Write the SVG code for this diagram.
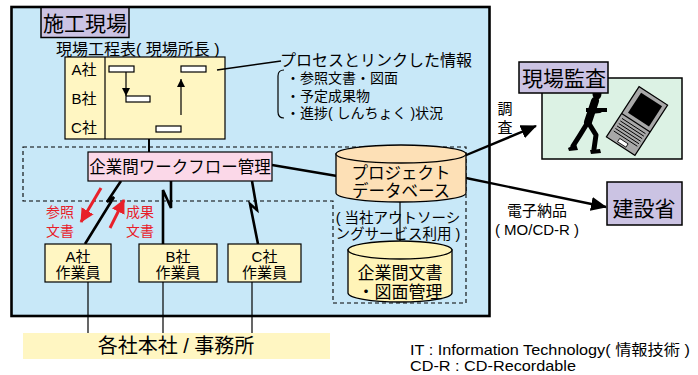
<svg xmlns="http://www.w3.org/2000/svg" width="698" height="375" viewBox="0 0 698 375">
  <style>
    text { font-family: "Liberation Sans", "Noto Sans CJK JP", sans-serif; fill: #000; }
    .c { text-anchor: middle; }
    .box { stroke: #000; stroke-width: 1.2; }
    .lav { fill: #cbc3e3; stroke: #000; stroke-width: 1.5; }
    .yel { fill: #fff6c2; }
    .bolt { fill: none; stroke: #000; stroke-width: 2.6; stroke-linejoin: miter; }
    .thin { stroke: #000; stroke-width: 1.2; fill: none; }
    .red { fill: #e8202a; }
    .redln { stroke: #e8202a; stroke-width: 3; fill: none; }
    .dash { fill: none; stroke: #000; stroke-width: 1.1; stroke-dasharray: 4 3; }
    .bar { fill: #fff; stroke: #000; stroke-width: 1.2; }
  </style>
  <defs>
    <marker id="ah" markerUnits="userSpaceOnUse" markerWidth="16" markerHeight="14" refX="15" refY="7" orient="auto">
      <path d="M0,0 L16,7 L0,14 Z" fill="#000"/>
    </marker>
    <marker id="ahs" markerUnits="userSpaceOnUse" markerWidth="8" markerHeight="8" refX="8" refY="4" orient="auto">
      <path d="M0,0 L8,4 L0,8 Z" fill="#000"/>
    </marker>
    <marker id="ahr" markerUnits="userSpaceOnUse" markerWidth="14" markerHeight="14" refX="13" refY="7" orient="auto">
      <path d="M0,0 L14,7 L0,14 Z" fill="#e8202a"/>
    </marker>
  </defs>

  <!-- site area -->
  <g id="site">
    <rect x="11.5" y="7" width="478" height="309" fill="#c8e8f8" stroke="#000" stroke-width="2.6"/>
    <rect x="41" y="7.5" width="88" height="30" class="lav"/>
    <text x="85" y="31" class="c" font-size="21">施工現場</text>
  </g>

  <!-- dashed system boundary -->
  <path class="dash" d="M23,147 L466,147 L466,303 L333,303 L333,201 L23,201 Z"/>

  <!-- schedule chart -->
  <g id="schedule">
    <text x="56" y="55" font-size="16">現場工程表( 現場所長 )</text>
    <rect x="65" y="57" width="160" height="82" fill="#fff6c2" stroke="#000" stroke-width="1.2"/>
    <line x1="105" y1="57" x2="105" y2="139" class="thin"/>
    <text x="84" y="75" class="c" font-size="15">A社</text>
    <text x="84" y="104" class="c" font-size="15">B社</text>
    <text x="84" y="133" class="c" font-size="15">C社</text>
    <rect x="109" y="66" width="25" height="6" class="bar"/>
    <rect x="181" y="66" width="25" height="6" class="bar"/>
    <rect x="126" y="96" width="24" height="6" class="bar"/>
    <rect x="156" y="126" width="25" height="6" class="bar"/>
    <line x1="126" y1="72" x2="126" y2="96" stroke="#000" stroke-width="1.2" marker-end="url(#ahs)"/>
    <line x1="181" y1="115" x2="181" y2="79" stroke="#000" stroke-width="1.2" marker-end="url(#ahs)"/>
  </g>

  <!-- linked information note -->
  <g id="note">
    <text x="280" y="66" font-size="16">プロセスとリンクした情報</text>
    <path d="M284,70 Q278,70 278,76 L278,112 Q278,118 284,118" class="thin"/>
    <text x="286" y="83" font-size="14">・参照文書・図面</text>
    <text x="286" y="101" font-size="14">・予定成果物</text>
    <text x="286" y="118" font-size="14">・進捗( しんちょく )状況</text>
  </g>

  <!-- connectors -->
  <g id="connectors">
    <line x1="217" y1="70" x2="281" y2="61" stroke="#000" stroke-width="1.6"/>
    <line x1="149" y1="139" x2="149" y2="152" stroke="#000" stroke-width="2"/>
    <line x1="272" y1="165" x2="337" y2="176" stroke="#000" stroke-width="2.4"/>
    <line x1="400" y1="202" x2="400" y2="245" stroke="#000" stroke-width="1.2"/>
    <polyline class="bolt" points="121,181 107,202 114,197 85,244"/>
    <polyline class="bolt" points="171,181 171,208 163,190 163,244"/>
    <polyline class="bolt" points="252,181 257,210 250,204 258,244"/>
    <line x1="88" y1="282" x2="88" y2="333" class="thin"/>
    <line x1="163" y1="282" x2="163" y2="333" class="thin"/>
    <line x1="252" y1="282" x2="252" y2="333" class="thin"/>
    <line x1="464" y1="156" x2="536" y2="126" stroke="#000" stroke-width="2.4" marker-end="url(#ah)"/>
    <line x1="466" y1="178" x2="606" y2="207" stroke="#000" stroke-width="2.4" marker-end="url(#ah)"/>
    <line x1="101" y1="188" x2="81" y2="222" class="redln" marker-end="url(#ahr)"/>
    <line x1="110" y1="228" x2="124" y2="200" class="redln" marker-end="url(#ahr)"/>
  </g>

  <!-- document flow labels -->
  <g id="doc-labels">
    <text x="60" y="217" class="c red" font-size="14">参照</text>
    <text x="60" y="236" class="c red" font-size="14">文書</text>
    <text x="140" y="217" class="c red" font-size="14">成果</text>
    <text x="140" y="236" class="c red" font-size="14">文書</text>
  </g>

  <!-- workflow manager -->
  <g id="workflow">
    <rect x="88" y="152" width="184" height="29" fill="#fbd8e8" class="box"/>
    <text x="180" y="173" class="c" font-size="16.5">企業間ワークフロー管理</text>
  </g>

  <!-- workers -->
  <g id="worker-a">
    <rect x="45" y="244" width="66" height="38" class="yel box"/>
    <text x="78" y="262" class="c" font-size="15">A社</text>
    <text x="78" y="278" class="c" font-size="15">作業員</text>
  </g>
  <g id="worker-b">
    <rect x="139" y="244" width="78" height="38" class="yel box"/>
    <text x="178" y="262" class="c" font-size="15">B社</text>
    <text x="178" y="278" class="c" font-size="15">作業員</text>
  </g>
  <g id="worker-c">
    <rect x="228" y="244" width="73" height="38" class="yel box"/>
    <text x="264.5" y="262" class="c" font-size="15">C社</text>
    <text x="264.5" y="278" class="c" font-size="15">作業員</text>
  </g>

  <!-- project database -->
  <g id="project-db">
    <path d="M336,154 L336,193 A65,9 0 0 0 466,193 L466,154 Z" fill="#fde0b6" stroke="#000" stroke-width="1.3"/>
    <ellipse cx="401" cy="154" rx="65" ry="9" fill="#fde0b6" stroke="#000" stroke-width="1.3"/>
    <text x="401" y="179" class="c" font-size="16.5">プロジェクト</text>
    <text x="401" y="197" class="c" font-size="16.5">データベース</text>
  </g>

  <text x="398" y="223" class="c" font-size="14.5">( 当社アウトソーシ</text>
  <text x="398" y="239" class="c" font-size="14.5">ングサービス利用 )</text>

  <!-- document management store -->
  <g id="doc-db">
    <path d="M348,250 L348,293 A52,9 0 0 0 452,293 L452,250 Z" fill="#fff4b8" stroke="#000" stroke-width="1.3"/>
    <ellipse cx="400" cy="250" rx="52" ry="9" fill="#fff4b8" stroke="#000" stroke-width="1.3"/>
    <text x="400" y="279" class="c" font-size="17">企業間文書</text>
    <text x="400" y="297.5" class="c" font-size="17">・図面管理</text>
  </g>

  <!-- site inspection -->
  <g id="inspection">
    <rect x="542" y="78" width="140" height="81" fill="#dcf2e4" stroke="#000" stroke-width="1.5"/>
    <!-- walking inspector -->
    <g fill="#000" stroke="#000" stroke-linecap="round" stroke-linejoin="round">
      <ellipse cx="597" cy="94" rx="4.5" ry="5.5" stroke="none"/>
      <path d="M591,89 L603,88 L603,91 L591,92 Z" stroke="none"/>
      <line x1="595" y1="101" x2="588" y2="122" stroke-width="8"/>
      <polyline points="594,104 590,112 600,111" fill="none" stroke-width="4"/>
      <rect x="586" y="108" width="21" height="4" stroke="none"/>
      <polyline points="588,122 580,135 573,146" fill="none" stroke-width="5"/>
      <polyline points="588,122 596,135 594,149" fill="none" stroke-width="5"/>
      <path d="M568,148 L576,144 L578,150 L569,151 Z" stroke="none"/>
      <path d="M590,150 L600,149 L601,153 L591,154 Z" stroke="none"/>
    </g>
    <!-- laptop -->
    <g transform="translate(637,121) rotate(33)">
      <rect x="-17" y="-30" width="34" height="60" fill="#a8a8a8" stroke="#000" stroke-width="1.2"/>
      <rect x="-12" y="-26" width="25" height="24" fill="#000"/>
      <line x1="-17" y1="2" x2="17" y2="2" stroke="#000" stroke-width="1.2"/>
      <g stroke="#000" stroke-width="0.9">
        <line x1="-14" y1="6" x2="14" y2="6"/>
        <line x1="-14" y1="9" x2="14" y2="9"/>
        <line x1="-14" y1="12" x2="14" y2="12"/>
        <line x1="-14" y1="15" x2="14" y2="15"/>
        <line x1="-14" y1="18" x2="14" y2="18"/>
        <line x1="-14" y1="21" x2="14" y2="21"/>
      </g>
      <rect x="-5" y="24" width="10" height="4" fill="#fff" stroke="#000" stroke-width="0.8"/>
    </g>
    <rect x="519" y="62" width="89" height="31" class="lav"/>
    <text x="564" y="86" class="c" font-size="21">現場監査</text>
  </g>

  <text x="505" y="114" class="c" font-size="15">調</text>
  <text x="505" y="133" class="c" font-size="15">査</text>

  <!-- ministry -->
  <g id="ministry">
    <rect x="607" y="182" width="75" height="43" class="lav"/>
    <text x="644" y="216" class="c" font-size="21">建設省</text>
  </g>

  <text x="537" y="216" class="c" font-size="15">電子納品</text>
  <text x="537" y="235" class="c" font-size="15">( MO/CD-R )</text>

  <!-- head offices -->
  <g id="head-offices">
    <rect x="23" y="333" width="307" height="26" fill="#fff6c2"/>
    <text x="176" y="353" class="c" font-size="20">各社本社 / 事務所</text>
  </g>

  <!-- legend -->
  <text x="410" y="355" font-size="15" textLength="280" lengthAdjust="spacingAndGlyphs">IT : Information Technology( 情報技術 )</text>
  <text x="410" y="371" font-size="15" textLength="166" lengthAdjust="spacingAndGlyphs">CD-R : CD-Recordable</text>
</svg>
